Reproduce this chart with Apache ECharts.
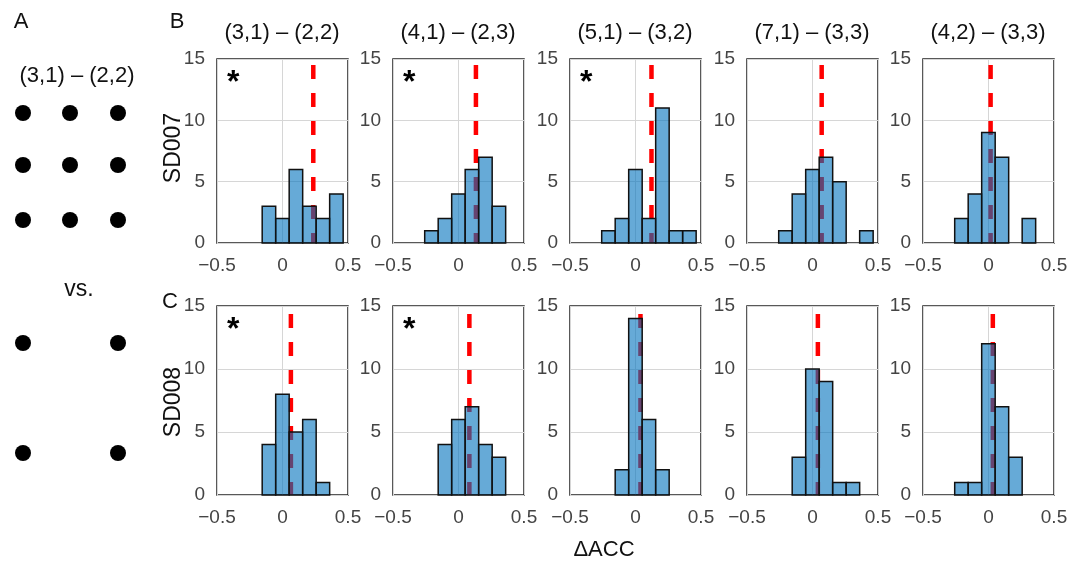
<!DOCTYPE html>
<html lang="en">
  <head>
    <meta charset="utf-8">
    <title>ΔACC histograms</title>
    <script src="https://cdn.jsdelivr.net/npm/echarts@6/dist/echarts.min.js"></script>
    <style>
      body { margin: 0; background: #fff; }
    </style>
  </head>
  <body>
    <div id="main" style="width: 1074px;height:566px;"></div>

    <script>
    // histogram bins (shared by all panels)
    var binEdges = [-0.258, -0.155, -0.052, 0.051, 0.154, 0.257, 0.360, 0.463];

    var panelTitles = ['(3,1) – (2,2)', '(4,1) – (2,3)', '(5,1) – (3,2)', '(7,1) – (3,3)', '(4,2) – (3,3)'];

    // counts per bin, SD007 row
    var sd007Counts = [
      [0, 3, 2, 6, 3, 2, 4],
      [1, 2, 4, 6, 7, 3, 0],
      [1, 2, 6, 2, 11, 1, 1],
      [1, 4, 6, 7, 5, 0, 1],
      [2, 4, 9, 7, 0, 2, 0]
    ];
    // counts per bin, SD008 row
    var sd008Counts = [
      [0, 4, 8, 5, 6, 1, 0],
      [0, 4, 6, 7, 4, 3, 0],
      [0, 2, 14, 6, 2, 0, 0],
      [0, 3, 10, 9, 1, 1, 0],
      [1, 1, 12, 7, 3, 0, 0]
    ];

    // red dashed line (mean ΔACC)
    var sd007Mean = [0.235, 0.133, 0.122, 0.07, 0.016];
    var sd008Mean = [0.064, 0.083, 0.038, 0.041, 0.033];

    var sd007Star = [true, true, true, false, false];
    var sd008Star = [true, true, false, false, false];

    var xTicks = [-0.5, 0, 0.5];
    var yTicks = [0, 5, 10, 15];

    var myChart = echarts.init(document.getElementById('main'));

    var FONT = '"Liberation Sans", Arial, sans-serif';
    var lefts = [217, 393, 570, 747, 923];
    var rows = [
      {top: 59, height: 184, counts: sd007Counts, mean: sd007Mean, star: sd007Star, dash: 22},
      {top: 306, height: 189, counts: sd008Counts, mean: sd008Mean, star: sd008Star, dash: 20}
    ];

    var grids = [], xAxes = [], yAxes = [], series = [], graphics = [];

    rows.forEach((row, r) =>
    {
      for(var c = 0; c < 5; c++)
      {
        var idx = grids.length;
        grids.push({
          left: lefts[c], top: row.top, width: 131, height: row.height,
          show: true, borderColor: '#222', borderWidth: 1.5, backgroundColor: '#fff'
        });
        xAxes.push({
          type: 'value', gridIndex: idx,
          min: xTicks[0], max: xTicks[xTicks.length - 1], interval: 0.5,
          axisLine: {show: false}, axisTick: {show: false},
          axisLabel: {color: '#444', fontSize: 19, fontFamily: FONT, margin: 13,
            showMinLabel: true, showMaxLabel: true,
            formatter: (v) => (v < 0 ? '\u2212' + (-v) : '' + v)},
          splitLine: {show: true, lineStyle: {color: '#d6d6d6', width: 1}}
        });
        yAxes.push({
          type: 'value', gridIndex: idx,
          min: yTicks[0], max: yTicks[yTicks.length - 1], interval: 5,
          axisLine: {show: false}, axisTick: {show: false},
          axisLabel: {color: '#444', fontSize: 19, fontFamily: FONT, margin: 12},
          splitLine: {show: true, lineStyle: {color: '#d6d6d6', width: 1}}
        });

        var m = row.mean[c];
        series.push({
          type: 'line', xAxisIndex: idx, yAxisIndex: idx,
          data: [[m, 15], [m, 0]],
          symbol: 'none', z: 1, silent: true,
          lineStyle: {color: '#ff0000', width: 4.5, type: [14, 14], dashOffset: row.dash}
        });

        var bins = row.counts[c].map((v, i) => [binEdges[i], binEdges[i + 1], v]);
        series.push({
          type: 'custom', xAxisIndex: idx, yAxisIndex: idx, z: 2,
          data: bins,
          encode: {x: [0, 1], y: 2},
          renderItem: (params, api) =>
          {
            var n = api.value(2);
            if(!n)
            {
              return;
            }
            var p0 = api.coord([api.value(0), n]);
            var p1 = api.coord([api.value(1), 0]);
            return {
              type: 'rect',
              shape: {x: p0[0], y: p0[1], width: p1[0] - p0[0], height: p1[1] - p0[1]},
              style: {fill: 'rgba(0,114,189,0.6)', stroke: '#111', lineWidth: 1.5}
            };
          }
        });

        if(row.star[c])
        {
          graphics.push({
            type: 'text', left: lefts[c] + 10, top: row.top + 8, z: 10,
            style: {text: '*', font: 'bold 32px ' + FONT, fill: '#000'}
          });
        }
        if(r == 0)
        {
          graphics.push({
            type: 'text', z: 10,
            x: lefts[c] + 65, y: 33,
            style: {text: panelTitles[c], font: '22px ' + FONT, fill: '#111',
              align: 'center', verticalAlign: 'middle'}
          });
        }
      }
    });

    // panel A: dot patterns and labels
    var dotsTop = [[23, 113], [70, 113], [118, 113], [23, 165], [70, 165], [118, 165], [23, 220], [70, 220], [118, 220]];
    var dotsBottom = [[23, 343], [118, 343], [23, 453], [118, 453]];
    dotsTop.concat(dotsBottom).forEach((p) =>
    {
      graphics.push({type: 'circle', shape: {cx: p[0], cy: p[1], r: 8}, style: {fill: '#000'}});
    });

    var labels = [
      {t: 'A', x: 21, y: 22, s: 22},
      {t: 'B', x: 177, y: 22, s: 22},
      {t: 'C', x: 170, y: 302, s: 22},
      {t: '(3,1) – (2,2)', x: 77, y: 76, s: 22},
      {t: 'vs.', x: 79, y: 290, s: 23},
      {t: 'ΔACC', x: 604, y: 550, s: 22}
    ];
    labels.forEach((l) =>
    {
      graphics.push({
        type: 'text', x: l.x, y: l.y, z: 10,
        style: {text: l.t, font: l.s + 'px ' + FONT, fill: '#111', align: 'center', verticalAlign: 'middle'}
      });
    });

    [['SD007', 148], ['SD008', 402]].forEach((l) =>
    {
      graphics.push({
        type: 'text', x: 174, y: l[1], rotation: Math.PI / 2, z: 10,
        style: {text: l[0], font: '23px ' + FONT, fill: '#111', align: 'center', verticalAlign: 'middle'}
      });
    });

    myChart.setOption({
      animation: false,
      grid: grids,
      xAxis: xAxes,
      yAxis: yAxes,
      series: series,
      graphic: graphics
    });
    </script>
  </body>
</html>
